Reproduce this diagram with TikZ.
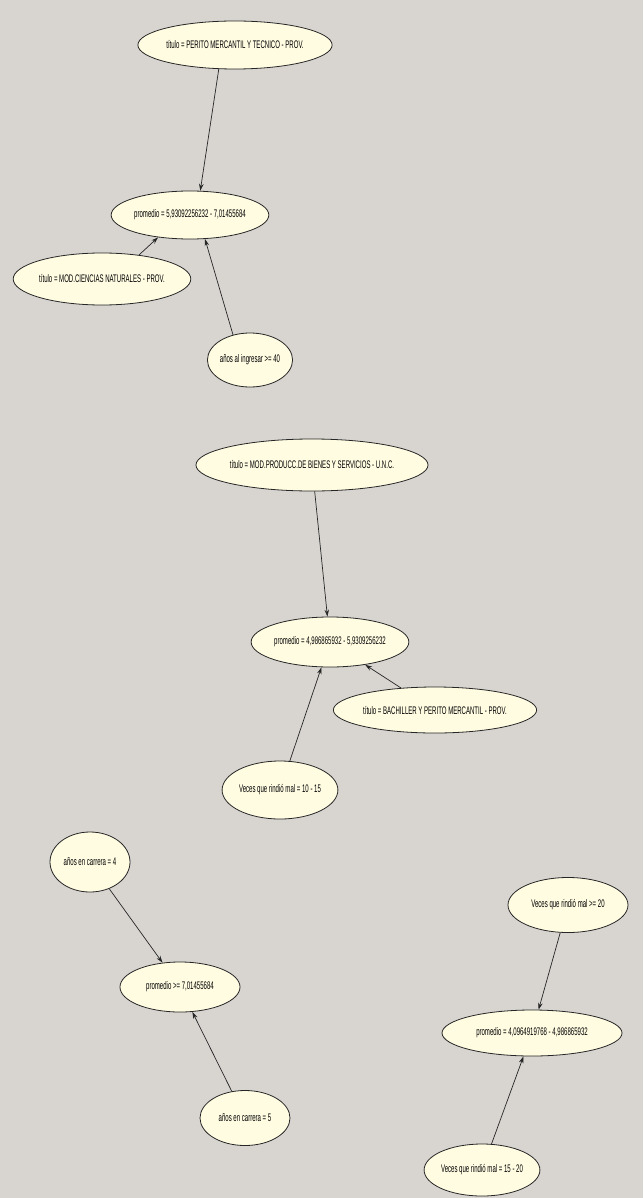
\documentclass[tikz,border=0pt]{standalone}
\usepackage{fontspec}
\setmainfont{Liberation Sans}[FakeStretch=0.55]
\usetikzlibrary{shapes.geometric,arrows.meta}
\definecolor{bg}{RGB}{216,213,208}
\definecolor{cream}{RGB}{255,252,226}
\tikzset{
  nd/.style={ellipse,draw=black!85,line width=0.8pt,fill=cream,inner sep=0pt,font=\fontsize{11}{12}\selectfont},
  ar/.style={draw=black!85,line width=0.7pt,-{Stealth[length=7pt,width=4.5pt]}}
}
\begin{document}
\begin{tikzpicture}[x=1pt,y=-1pt]
\fill[bg] (0,0) rectangle (643,1198);
\useasboundingbox (0,0) rectangle (643,1198);
\node[nd,minimum width=192pt,minimum height=48pt] (n1) at (235,45) {título = PERITO MERCANTIL Y TECNICO - PROV.};
\node[nd,minimum width=155pt,minimum height=48pt] (n2) at (190,215) {promedio = 5,93092256232 - 7,01455684};
\node[nd,minimum width=165pt,minimum height=52pt] (n3) at (102,279) {título = MOD.CIENCIAS NATURALES - PROV.};
\node[nd,minimum width=80pt,minimum height=54pt] (n4) at (250,360) {años al ingresar >= 40};
\node[nd,minimum width=205pt,minimum height=52pt] (n5) at (312,465) {título = MOD.PRODUCC.DE BIENES Y SERVICIOS - U.N.C.};
\node[nd,minimum width=150pt,minimum height=50pt] (n6) at (330,642) {promedio = 4,986865932 - 5,9309256232};
\node[nd,minimum width=185pt,minimum height=46pt] (n7) at (435,710) {título = BACHILLER Y PERITO MERCANTIL - PROV.};
\node[nd,minimum width=115pt,minimum height=58pt] (n8) at (280,790) {Veces que rindió mal = 10 - 15};
\node[nd,minimum width=80pt,minimum height=60pt] (n9) at (90,862) {años en carrera = 4};
\node[nd,minimum width=120pt,minimum height=50pt] (n10) at (180,987) {promedio >= 7,01455684};
\node[nd,minimum width=90pt,minimum height=55pt] (n11) at (245,1118) {años en carrera = 5};
\node[nd,minimum width=120pt,minimum height=55pt] (n12) at (568,905) {Veces que rindió mal >= 20};
\node[nd,minimum width=180pt,minimum height=46pt] (n13) at (532,1033) {promedio = 4,0964919768 - 4,986865932};
\node[nd,minimum width=115pt,minimum height=52pt] (n14) at (482,1170) {Veces que rindió mal = 15 - 20};
\draw[ar] (n1.236) -- (n2.67);
\draw[ar] (n3.33) -- (n2.215);
\draw[ar] (n4.124) -- (n2.302);
\draw[ar] (n5) -- (n6);
\draw[ar] (n8) -- (n6);
\draw[ar] (n7) -- (n6);
\draw[ar] (n9) -- (n10);
\draw[ar] (n11) -- (n10);
\draw[ar] (n12) -- (n13);
\draw[ar] (n14) -- (n13);
\end{tikzpicture}
\end{document}
